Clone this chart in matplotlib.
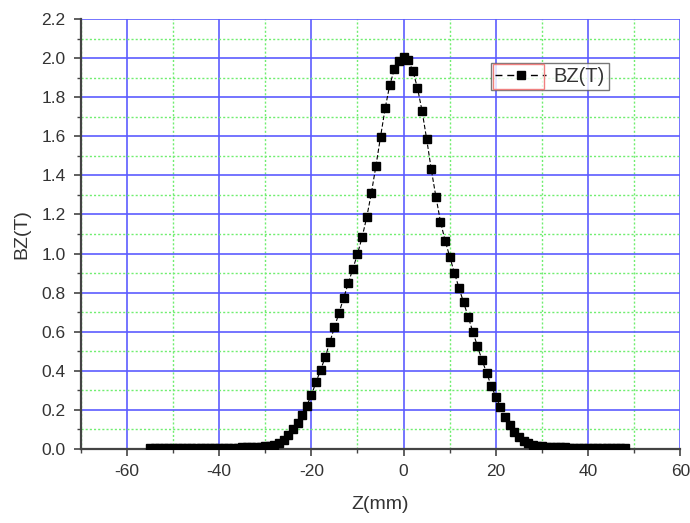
import numpy as np
import matplotlib
matplotlib.use('Agg')
import matplotlib.pyplot as plt
from matplotlib.ticker import MultipleLocator, FormatStrFormatter
from matplotlib.patches import Rectangle
from matplotlib.lines import Line2D

plt.rcParams['font.family'] = ['Liberation Sans', 'DejaVu Sans']
plt.rcParams['axes.unicode_minus'] = False

# Data (Z in mm, BZ in T)
z_mm = np.arange(-55, 49)
bz_left_tail = [0.006, 0.006, 0.006, 0.006, 0.006, 0.006, 0.006, 0.006, 0.006, 0.006,
                0.006, 0.006, 0.006, 0.006, 0.006, 0.006, 0.006, 0.007, 0.007, 0.007,
                0.008, 0.008, 0.009, 0.010, 0.011]            # -55 .. -31
bz_core = [0.013, 0.017, 0.022, 0.030, 0.045, 0.070, 0.101, 0.135, 0.174, 0.222,   # -30 .. -21
           0.275, 0.341, 0.404, 0.469, 0.546, 0.622, 0.697, 0.772, 0.848, 0.922,   # -20 .. -11
           0.997, 1.083, 1.185, 1.308, 1.448, 1.597, 1.743, 1.862, 1.942, 1.985,   # -10 .. -1
           2.005,                                                                   # 0
           1.990, 1.935, 1.848, 1.730, 1.586, 1.430, 1.291, 1.163, 1.066, 0.984,   # 1 .. 10
           0.902, 0.825, 0.750, 0.677, 0.600, 0.527, 0.455, 0.390, 0.322, 0.268,   # 11 .. 20
           0.213, 0.165, 0.123, 0.089, 0.063, 0.042, 0.029, 0.021, 0.016, 0.013]   # 21 .. 30
bz_right_tail = [0.011, 0.010, 0.009, 0.008, 0.008, 0.007, 0.007, 0.007, 0.006,
                 0.006, 0.006, 0.006, 0.006, 0.006, 0.006, 0.006, 0.006, 0.006]   # 31 .. 48
bz_t = np.array(bz_left_tail + bz_core + bz_right_tail)

fig = plt.figure(figsize=(6.9, 5.23), dpi=100)
ax = fig.add_axes([0.117, 0.1415, 0.869, 0.8222])

ax.plot(z_mm, bz_t, color='black', ls=(0, (4, 2)), lw=0.8,
        marker='s', markersize=6.3, markerfacecolor='black',
        markeredgecolor='black', zorder=3)

ax.set_xlim(-70, 60)
ax.set_ylim(0, 2.2)
ax.xaxis.set_major_locator(MultipleLocator(20))
ax.xaxis.set_minor_locator(MultipleLocator(10))
ax.yaxis.set_major_locator(MultipleLocator(0.2))
ax.yaxis.set_minor_locator(MultipleLocator(0.1))
ax.yaxis.set_major_formatter(FormatStrFormatter('%.1f'))

ax.grid(which='major', color='#5c5cff', lw=1.2, ls='-')
ax.grid(which='minor', color='#70ee70', lw=1.0, ls=(0, (1.5, 1.5)))
ax.set_axisbelow(True)

for side in ['top', 'right']:
    ax.spines[side].set_visible(False)
for side in ['left', 'bottom']:
    ax.spines[side].set_color('#444444')
    ax.spines[side].set_linewidth(1.6)

ax.tick_params(which='major', direction='out', length=5, width=1.2,
               color='#444444', labelsize=12.5, labelcolor='#333333', pad=6)
ax.tick_params(which='minor', direction='out', length=3, width=1.0, color='#444444')

ax.set_xlabel('Z(mm)', fontsize=14, color='#333333', labelpad=12)
ax.set_ylabel('BZ(T)', fontsize=14, color='#333333', labelpad=8)

fig.canvas.draw()
xgl = ax.get_xgridlines()
if len(xgl):
    xgl[-1].set_visible(False)

handle = Line2D([], [], color='black', ls=(0, (5, 3.5)), lw=1.0,
                marker='s', markersize=5.5)
leg = ax.legend([handle], ['BZ(T)'], loc='upper left',
                bbox_to_anchor=(491 / 690, 1 - 63 / 523),
                bbox_transform=fig.transFigure, fontsize=14.5,
                frameon=True, fancybox=False, edgecolor='#555555',
                handlelength=2.55, handletextpad=0.35, borderpad=0.2,
                borderaxespad=0)
leg.get_frame().set_linewidth(1.0)
for t in leg.get_texts():
    t.set_color('#333333')

# red box around the legend symbol
fig.patches.append(Rectangle((493 / 690, 1 - 89 / 523), 51 / 690, 25 / 523,
                             transform=fig.transFigure, fill=False,
                             edgecolor='#f08080', lw=1.0, zorder=10))

fig.savefig('out.png', dpi=100)
